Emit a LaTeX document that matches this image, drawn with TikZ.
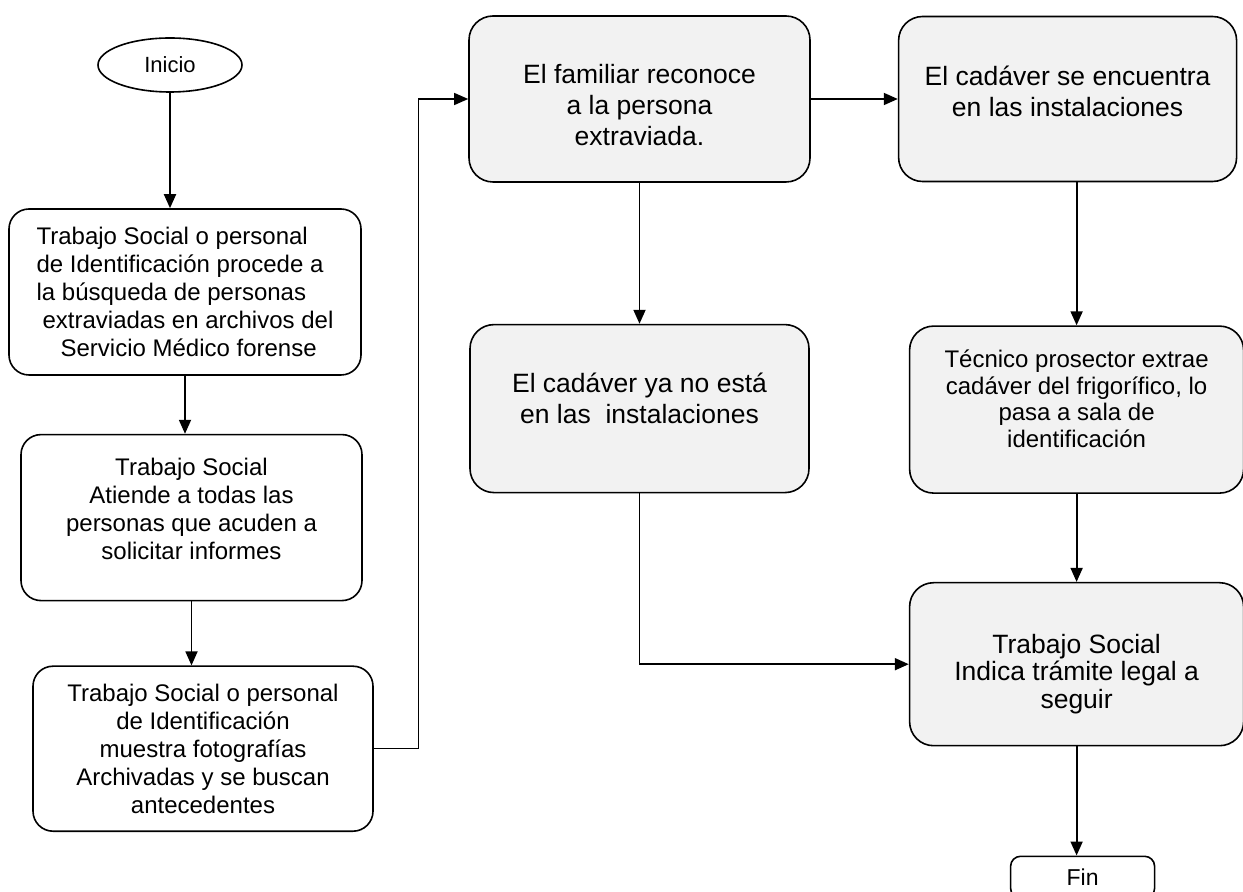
\documentclass[tikz,border=0pt]{standalone}
\usepackage{fontspec}
\setmainfont{Liberation Sans}
\usetikzlibrary{arrows.meta,shapes,positioning,calc}
\newcommand{\alto}[1]{\rule{0pt}{#1}}
\newcommand{\hondo}[1]{\rule[-#1]{0pt}{#1}}
\tikzset{
    paso/.style={
        rectangle,
        rounded corners=10pt,
        draw=black,
        line width=0.8pt,
        fill=white,
        align=center,
        inner sep=2pt,
        font=\fontsize{12}{14}\selectfont,
    },
    paso-gris/.style={
        paso,
        rounded corners=12pt,
        fill=black!5,
        font=\fontsize{13.25}{15.5}\selectfont,
    },
    inicio/.style={
        ellipse,
        draw=black,
        line width=0.8pt,
        minimum width=72pt,
        minimum height=27pt,
        font=\fontsize{11}{13}\selectfont,
    },
    fin/.style={
        rectangle,
        rounded corners=5pt,
        draw=black,
        line width=0.8pt,
        minimum width=72pt,
        minimum height=21pt,
        font=\fontsize{11.5}{13}\selectfont,
    },
    flujo/.style={
        draw,
        ->,>={Triangle[length=7pt,width=6pt]},
        line width=0.6pt,
    },
    every edge/.style={
        draw,
        ->,>={Triangle[length=7pt,width=6pt]},
        line width=0.9pt,
    },
    node distance=30pt,
}

\begin{document}
\begin{tikzpicture}
                \useasboundingbox (0,0) rectangle (621.5pt,-446pt);

                \node [inicio] (ini) at (85pt,-32.5pt) {Inicio};

                \node [paso, align=left, minimum width=176pt, minimum height=83pt] (busqueda) at (92.5pt,-146pt)
                    {Trabajo Social o personal\\de Identificación procede a\\la búsqueda de personas\\\hspace*{3pt}extraviadas en archivos del\\\hspace*{12pt}Servicio Médico forense};

                \node [paso, below=29pt of busqueda, xshift=3.25pt, minimum width=170.5pt, minimum height=83pt] (atiende)
                    {Trabajo Social\\Atiende a todas las\\personas que acuden a\\solicitar informes\hondo{9pt}};

                \node [paso, below=32pt of atiende, xshift=5.75pt, minimum width=170pt, minimum height=82.5pt] (fotos)
                    {Trabajo Social o personal\\de Identificación\\muestra fotografías\\Archivadas y se buscan\\antecedentes};

                \node [paso-gris, minimum width=170.5pt, minimum height=83pt] (reconoce) at (319.75pt,-49.5pt)
                    {\alto{15.6pt}El familiar reconoce\\a la persona\\extraviada.};

                \node [paso-gris, right=43.5pt of reconoce, minimum width=169pt, minimum height=82.5pt] (encuentra)
                    {El cadáver se encuentra\\en las instalaciones\hondo{8pt}};

                \node [paso-gris, below=70.5pt of reconoce, minimum width=169.5pt, minimum height=84pt] (noesta)
                    {El cadáver ya no está\\en las\ \ instalaciones\hondo{10pt}};

                \node [paso-gris, below=71.5pt of encuentra, xshift=4.5pt, minimum width=167pt, minimum height=83.5pt,
                       font=\fontsize{12}{13.35}\selectfont] (extrae)
                    {Técnico prosector extrae\\cadáver del frigorífico, lo\\pasa a sala de\\identificación\hondo{11pt}};

                \node [paso-gris, below=44pt of extrae, minimum width=167pt, minimum height=81.5pt,
                       font=\fontsize{13.25}{13.75}\selectfont] (legal)
                    {\alto{19.2pt}Trabajo Social\\Indica trámite legal a\\seguir};

                \node [fin, below=54.5pt of legal, xshift=3pt] (fin) {Fin};

                \draw (ini) edge (ini |- busqueda.north);
                \draw (busqueda) edge (busqueda |- atiende.north);
                \draw (atiende) edge (atiende |- fotos.north);
                \draw [flujo] (fotos.east) -- ++(22.5pt,0) |- (reconoce.west);
                \draw (reconoce) edge (encuentra);
                \draw (reconoce) edge (reconoce |- noesta.north);
                \draw (extrae |- encuentra.south) edge (extrae);
                \draw (extrae) edge (legal);
                \draw (noesta) edge[to path={|- (\tikztotarget)}] (legal);
                \draw (legal) edge (legal |- fin.north);



            \end{tikzpicture}
\end{document}
